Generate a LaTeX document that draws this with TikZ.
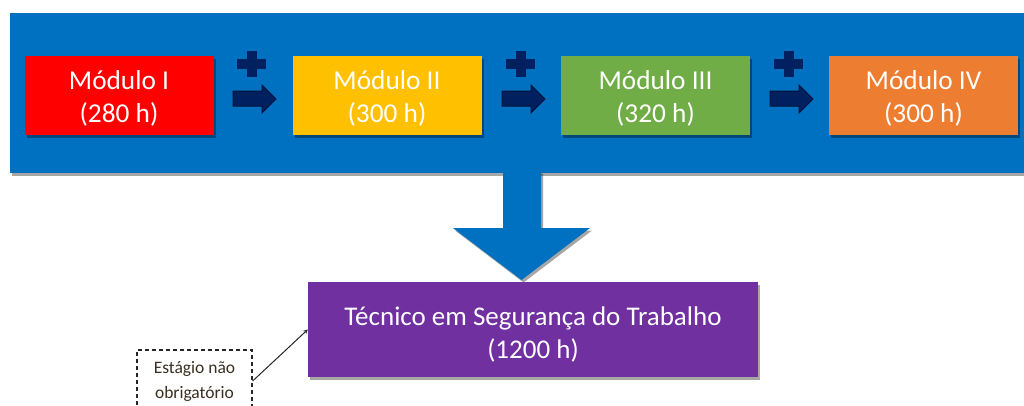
\documentclass[tikz,border=0pt]{standalone}
\usepackage{fontspec}
\setmainfont{Carlito}
\usetikzlibrary{shadows}
\definecolor{bannerblue}{HTML}{0070C0}
\definecolor{modred}{HTML}{FF0000}
\definecolor{modyellow}{HTML}{FFC000}
\definecolor{modgreen}{HTML}{70AD47}
\definecolor{modorange}{HTML}{ED7D31}
\definecolor{modpurple}{HTML}{7030A0}
\definecolor{navy}{HTML}{002060}
\definecolor{navyedge}{HTML}{001338}
\definecolor{stagetext}{HTML}{3A3020}
\begin{document}
\begin{tikzpicture}[x=1pt,y=-1pt,
  shade/.style={drop shadow={shadow xshift=2pt, shadow yshift=-2.5pt, opacity=0.35, fill=black}},
  modbox/.style={shade, minimum width=189pt, minimum height=79pt, inner sep=0pt},
  modtext/.style={inner sep=0pt, text=white, font=\fontsize{27.3}{33}\selectfont, align=center},
  plussign/.style={fill=navy},
  stepshape/.style={fill=navy, draw=navyedge, line width=1pt, line join=miter},
]
\useasboundingbox (0,0) rectangle (1024,405);
\fill[white] (0,0) rectangle (1024,405);

% banner
\node[shade, fill=bannerblue, minimum width=1020pt, minimum height=160pt, inner sep=0pt] (banner) at (520,93) {};

% big down arrow
\fill[bannerblue, shade] (503,171) -- (541,171) -- (541,228) -- (590,228) -- (521.5,280) -- (453,228) -- (503,228) -- cycle;
\fill[bannerblue] (503,165) rectangle (541,175);

% modules
\node[modbox, fill=modred]    (m1) at (119,95.5)   {};
\node[modbox, fill=modyellow] (m2) at (387,95.5)   {};
\node[modbox, fill=modgreen]  (m3) at (655.5,95.5) {};
\node[modbox, fill=modorange] (m4) at (923.5,95.5) {};
\node[modtext] (t1) at ([yshift=-3pt]m1.center) {Módulo I\\(280 h)};
\node[modtext] (t2) at ([yshift=-3pt]m2.center) {Módulo II\\(300 h)};
\node[modtext] (t3) at ([yshift=-3pt]m3.center) {Módulo III\\(320 h)};
\node[modtext] (t4) at ([yshift=-3pt]m4.center) {Módulo IV\\(300 h)};

% plus signs and step arrows
\foreach \g in {213,482,750}{
  \fill[plussign] (\g+24,59) rectangle (\g+53,69);
  \fill[plussign] (\g+33.5,51) rectangle (\g+43.5,77);
  \filldraw[stepshape] (\g+20,91) -- (\g+49,91) -- (\g+49,85) -- (\g+63,99) -- (\g+49,113) -- (\g+49,106) -- (\g+20,106) -- cycle;
}

% result
\node[shade, fill=modpurple, minimum width=450pt, minimum height=95pt, inner sep=0pt] (course) at (533,329.5) {};
\node[inner sep=0pt, text=white, font=\fontsize{27}{33}\selectfont, align=center] (coursetext)
  at ([yshift=-4.5pt]course.center) {Técnico em Segurança do Trabalho\\(1200 h)};

% internship
\node[draw=black!85, dashed, dash pattern=on 4pt off 3pt, line width=1.3pt, minimum width=115pt, minimum height=62pt,
  inner sep=0pt, text=stagetext, font=\fontsize{17.5}{25}\selectfont, align=center] (stage) at (194.5,381)
  {Estágio não\\obrigatório};

\draw[-stealth, line width=1pt, black!85] (stage.east) -- (course.west);
\end{tikzpicture}
\end{document}
